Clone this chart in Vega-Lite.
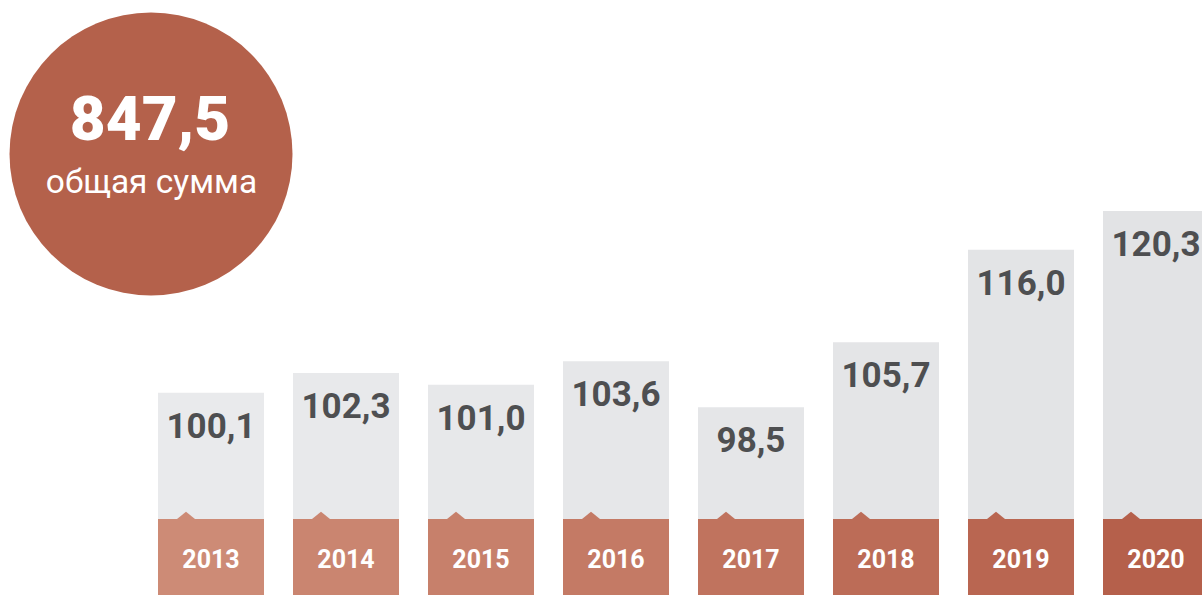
{
  "$schema": "https://vega.github.io/schema/vega-lite/v6.json",
  "width": 1202,
  "height": 595,
  "padding": 0,
  "autosize": {"type": "none"},
  "background": "#ffffff",
  "config": {
    "view": {"stroke": null},
    "locale": {"number": {"decimal": ",", "thousands": " ", "grouping": [3], "currency": ["", ""]}}
  },
  "data": {
    "values": [
      {"year": 2013, "value": 100.1},
      {"year": 2014, "value": 102.3},
      {"year": 2015, "value": 101.0},
      {"year": 2016, "value": 103.6},
      {"year": 2017, "value": 98.5},
      {"year": 2018, "value": 105.7},
      {"year": 2019, "value": 116.0},
      {"year": 2020, "value": 120.3}
    ]
  },
  "layer": [
    {
      "mark": {"type": "bar", "width": 106},
      "encoding": {
        "x": {"field": "year", "type": "quantitative", "scale": {"domain": [2011.437, 2020.3407], "nice": false, "zero": false, "padding": 0}, "axis": null},
        "y": {"field": "value", "type": "quantitative", "scale": {"domain": [77.63, 143.74], "nice": false, "zero": false, "padding": 0}, "axis": null},
        "y2": {"datum": 77.63},
        "color": {"field": "year", "type": "ordinal", "scale": {"range": ["#e9eaec", "#e8e9eb", "#e7e8ea", "#e6e7e9", "#e5e6e8", "#e4e5e7", "#e3e4e6", "#e2e3e5"]}, "legend": null}
      }
    },
    {
      "mark": {"type": "bar", "width": 106},
      "encoding": {
        "x": {"field": "year", "type": "quantitative"},
        "y": {"datum": 86.07, "type": "quantitative"},
        "y2": {"datum": 77.63},
        "fill": {"field": "year", "type": "ordinal", "scale": {"range": ["#cd8b76", "#ca8570", "#c7806b", "#c47a65", "#c0735e", "#bc6c57", "#b96651", "#b5604b"]}, "legend": null}
      }
    },
    {
      "mark": {"type": "point", "filled": true, "opacity": 1, "size": 324, "shape": "M-1,0L0,-0.8L1,0Z", "xOffset": -25, "strokeWidth": 0},
      "encoding": {
        "x": {"field": "year", "type": "quantitative"},
        "y": {"datum": 86.07, "type": "quantitative"},
        "fill": {"field": "year", "type": "ordinal", "legend": null}
      }
    },
    {
      "mark": {"type": "text", "font": "Roboto", "fontSize": 35, "fontWeight": "bold", "fill": "#4e4f51", "align": "center", "baseline": "alphabetic", "dy": 45},
      "encoding": {
        "x": {"field": "year", "type": "quantitative"},
        "y": {"field": "value", "type": "quantitative"},
        "text": {"field": "value", "type": "quantitative", "format": ".1f"}
      }
    },
    {
      "mark": {"type": "text", "font": "Roboto", "fontSize": 25, "fontWeight": "bold", "fill": "#ffffff", "align": "center", "baseline": "alphabetic"},
      "encoding": {
        "x": {"field": "year", "type": "quantitative"},
        "y": {"datum": 80.6, "type": "quantitative"},
        "text": {"field": "year", "type": "nominal"}
      }
    },
    {
      "transform": [{"aggregate": [{"op": "sum", "field": "value", "as": "total"}]}],
      "mark": {"type": "point", "shape": "circle", "filled": true, "opacity": 1, "size": 80089, "fill": "#b4614b", "strokeWidth": 0},
      "encoding": {
        "x": {"datum": 2012.5556, "type": "quantitative"},
        "y": {"datum": 126.63, "type": "quantitative"}
      }
    },
    {
      "transform": [{"aggregate": [{"op": "sum", "field": "value", "as": "total"}]}],
      "mark": {"type": "text", "font": "Roboto", "fontSize": 62, "fontWeight": 900, "fill": "#ffffff", "align": "center", "baseline": "alphabetic"},
      "encoding": {
        "x": {"datum": 2012.548, "type": "quantitative"},
        "y": {"datum": 128.19, "type": "quantitative"},
        "text": {"field": "total", "type": "quantitative", "format": ".1f"}
      }
    },
    {
      "transform": [{"aggregate": [{"op": "count", "as": "n"}]}],
      "mark": {"type": "text", "font": "Roboto", "fontSize": 33.5, "fontWeight": "normal", "fill": "#ffffff", "align": "center", "baseline": "alphabetic"},
      "encoding": {
        "x": {"datum": 2012.559, "type": "quantitative"},
        "y": {"datum": 122.3, "type": "quantitative"},
        "text": {"value": "общая сумма"}
      }
    }
  ]
}
